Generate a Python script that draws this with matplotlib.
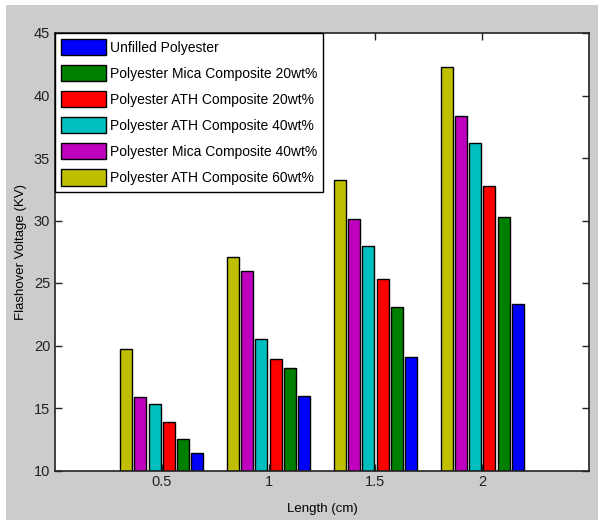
import numpy as np
import matplotlib
matplotlib.use('Agg')
import matplotlib.pyplot as plt
from matplotlib.patches import Rectangle

plt.rcParams['font.family'] = ['Liberation Sans', 'DejaVu Sans']

lengths = [0.5, 1.0, 1.5, 2.0]
tick_labels = ['0.5', '1', '1.5', '2']

series_names = [
    'Unfilled Polyester',
    'Polyester Mica Composite 20wt%',
    'Polyester ATH Composite 20wt%',
    'Polyester ATH Composite 40wt%',
    'Polyester Mica Composite 40wt%',
    'Polyester ATH Composite 60wt%',
]
unfilled = [11.4, 16.0, 19.1, 23.3]
mica_20 = [12.5, 18.2, 23.1, 30.3]
ath_20 = [13.9, 18.9, 25.3, 32.8]
ath_40 = [15.3, 20.5, 28.0, 36.2]
mica_40 = [15.9, 26.0, 30.1, 38.4]
ath_60 = [19.7, 27.1, 33.2, 42.3]
series_values = [unfilled, mica_20, ath_20, ath_40, mica_40, ath_60]
colors = ['#0000ff', '#008000', '#ff0000', '#00bfbf', '#bf00bf', '#bfbf00']

fig = plt.figure(figsize=(5.98, 5.20), dpi=100, facecolor='white')
# grey MATLAB-style figure background with a thin white margin
fig.patches.append(Rectangle((6 / 598, 0), 1, 1 - 5 / 520, transform=fig.transFigure,
                             facecolor='#cccccc', edgecolor='none', zorder=-10))
ax = fig.add_axes([55 / 598, 49.5 / 520, 534 / 598, 437.5 / 520])
ax.set_facecolor('white')

pitch = 0.0668
width = 0.056
n = len(series_values)
handles = []
for i, (name, vals, c) in enumerate(zip(series_names, series_values, colors)):
    # first series sits at the right of each group
    offset = ((n - 1) / 2 - i) * pitch
    x = np.array(lengths) + offset
    b = ax.bar(x, np.array(vals) - 10, width=width, bottom=10, color=c,
               edgecolor='black', linewidth=1.0, label=name)
    handles.append(b)

ax.set_xlim(0, 2.5)
ax.set_ylim(10, 45)
ax.set_xticks(lengths)
ax.set_xticklabels(tick_labels)
ax.set_yticks(np.arange(10, 46, 5))
ax.tick_params(direction='in', top=True, right=True, length=5, width=1,
               labelsize=10.5, colors='#222222')
for s in ax.spines.values():
    s.set_linewidth(1.2)
    s.set_color('#222222')

ax.set_xlabel('Length (cm)', fontsize=9.5, labelpad=10)
ax.set_ylabel('Flashover Voltage (KV)', fontsize=9.5, labelpad=5)

leg = ax.legend(handles=handles, loc='upper left', bbox_to_anchor=(0, 1),
                fontsize=10, frameon=True, fancybox=False, framealpha=1,
                edgecolor='black', handlelength=3.2, handleheight=1.4,
                labelspacing=0.72, handletextpad=0.3, borderpad=0.45,
                borderaxespad=0)
leg.get_frame().set_linewidth(1.0)

fig.savefig('out.png', dpi=100, facecolor=fig.get_facecolor())
